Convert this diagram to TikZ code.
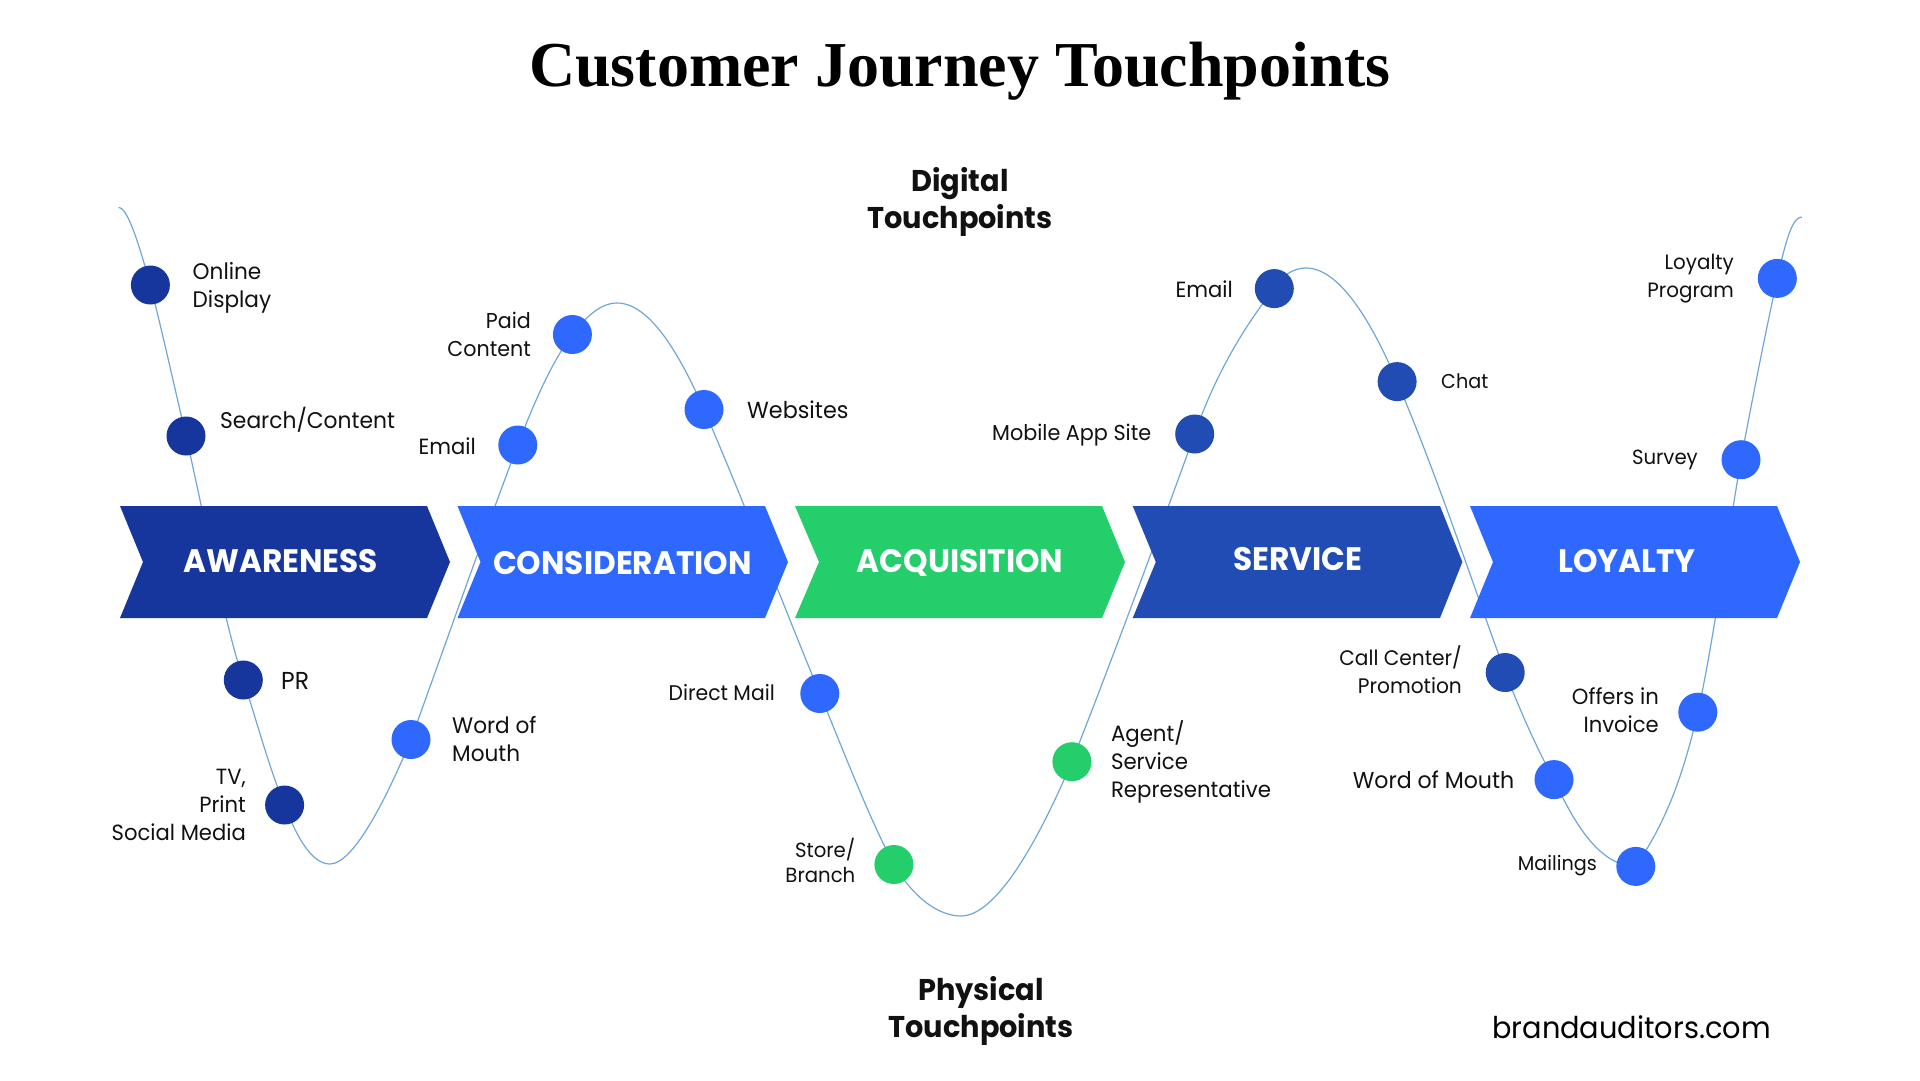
\documentclass[tikz,border=0pt]{standalone}
\usepackage{fontspec}
\setmainfont[FakeStretch=0.96]{Poppins}
\newfontfamily\titlefont{Liberation Serif}
\definecolor{cnavy}{HTML}{16369E}
\definecolor{cblue}{HTML}{2E68FF}
\definecolor{cgreen}{HTML}{23CE6B}
\definecolor{cmid}{HTML}{214CB4}
\definecolor{cline}{HTML}{6FA8D8}
\definecolor{cink}{HTML}{111111}
\tikzset{
  dot/.style={circle,minimum size=39pt,inner sep=0pt},
  lab/.style={font=\fontsize{#1}{28}\selectfont,text=cink,inner sep=0pt},
  labl/.style={lab=#1,anchor=west,align=left},
  labl/.default=22.5,
  labr/.style={lab=#1,anchor=east,align=right},
  labr/.default=22.5,
  phase/.style={font=\fontsize{32.5}{36}\selectfont\bfseries,text=white,inner sep=0pt},
  head/.style={font=\fontsize{30}{37}\selectfont\bfseries,text=cink,align=center,inner sep=0pt},
}
\begin{document}
\begin{tikzpicture}[x=1pt,y=-1pt]
\useasboundingbox (0,0) rectangle (1920,1080);
\fill[white] (0,0) rectangle (1920,1080);
% touchpoint positions
\coordinate (p1) at (150.4,285);
\coordinate (p2) at (186,436);
\coordinate (p3) at (243.3,680);
\coordinate (p4) at (284.6,805);
\coordinate (p5) at (411,739.5);
\coordinate (p6) at (517.8,445);
\coordinate (p7) at (572.4,334.5);
\coordinate (p8) at (704,409.5);
\coordinate (p9) at (819.8,693.5);
\coordinate (p10) at (893.9,864.5);
\coordinate (p11) at (1071.9,761.7);
\coordinate (p12) at (1194.7,434);
\coordinate (p13) at (1274.3,288.6);
\coordinate (p14) at (1397.1,381.6);
\coordinate (p15) at (1505.2,672.5);
\coordinate (p16) at (1554,779.6);
\coordinate (p17) at (1635.8,866.4);
\coordinate (p18) at (1697.8,712.2);
\coordinate (p19) at (1741,459.7);
\coordinate (p20) at (1777.3,278.4);
% curve
\draw[cline,line width=1.2pt] (118.5,207.5)
 .. controls (128,207.5) and (139,245) .. (p1)
 .. controls (163,335) and (174,385) .. (p2)
 .. controls (205,520) and (225,625) .. (p3)
 .. controls (255,715) and (268,765) .. (p4)
 .. controls (297,838) and (312,864) .. (330,864)
 .. controls (355,864) and (390,790) .. (p5)
 .. controls (447,640) and (480,545) .. (p6)
 .. controls (535,400) and (553,360) .. (p7)
 .. controls (585,318) and (600,303) .. (617,303)
 .. controls (650,303) and (680,355) .. (p8)
 .. controls (742,497) and (780,597) .. (p9)
 .. controls (843,750) and (870,820) .. (p10)
 .. controls (915,900) and (940,916) .. (961,916)
 .. controls (1000,916) and (1045,825) .. (p11)
 .. controls (1112,660) and (1160,530) .. (p12)
 .. controls (1215,375) and (1245,325) .. (p13)
 .. controls (1282,275) and (1294,268) .. (1306,268)
 .. controls (1342,268) and (1375,330) .. (p14)
 .. controls (1437,475) and (1473,585) .. (p15)
 .. controls (1520,710) and (1535,745) .. (p16)
 .. controls (1575,825) and (1600,866) .. (p17)
 .. controls (1660,830) and (1680,790) .. (p18)
 .. controls (1712,650) and (1727,540) .. (p19)
 .. controls (1755,385) and (1765,335) .. (p20)
 .. controls (1787,235) and (1793,217) .. (1802,217);
% chevrons
\fill[cnavy] (120,506)--(427,506)--(450,562)--(427,618)--(120,618)--(143,562)--cycle;
\fill[cblue] (457.5,506)--(765,506)--(788,562)--(765,618)--(457.5,618)--(480.5,562)--cycle;
\fill[cgreen] (795,506)--(1102,506)--(1125,562)--(1102,618)--(795,618)--(819,562)--cycle;
\fill[cmid] (1132.7,506)--(1440,506)--(1462.4,562)--(1440,618)--(1132.7,618)--(1155.8,562)--cycle;
\fill[cblue] (1470,506)--(1777,506)--(1800,562)--(1777,618)--(1470,618)--(1493,562)--cycle;
\node[phase] (awareness) at (280.6,561) {AWARENESS};
\node[phase] (consideration) at (622.5,563) {CONSIDERATION};
\node[phase] (acquisition) at (960,563) {ACQUISITION};
\node[phase] (service) at (1298,559) {SERVICE};
\node[phase] (loyalty) at (1627,561) {LOYALTY};
% dots
\foreach \n/\c in {1/cnavy,2/cnavy,3/cnavy,4/cnavy,5/cblue,6/cblue,7/cblue,8/cblue,9/cblue,10/cgreen,11/cgreen,12/cmid,13/cmid,14/cmid,15/cmid,16/cblue,17/cblue,18/cblue,19/cblue,20/cblue}
  \node[dot,fill=\c] (d\n) at (p\n) {};
% labels
\node[labl=22.5] (l1) at (192.5,287.5) {Online\\Display};
\node[labl=22.7] (l2) at (220,420) {Search/Content};
\node[labl=24.5] (l3) at (281,681) {PR};
\node[labr=22] (l4) at (246,805) {TV,\\Print\\Social Media};
\node[labl=22.5] (l5) at (452,738.5) {Word of\\Mouth};
\node[labr=22] (l6) at (476,446) {Email};
\node[labr=21.5] (l7) at (531,334) {Paid\\Content};
\node[labl=23.2] (l8) at (747,410) {Websites};
\node[labr=21.2] (l9) at (775,692.5) {Direct Mail};
\node[labr=20.5,font=\fontsize{20.5}{25}\selectfont] (l10) at (855.5,860) {Store/\\Branch};
\node[labl=22.2] (l11) at (1110.8,762) {Agent/\\Service\\Representative};
\node[labr=21.6] (l12) at (1151.4,435.5) {Mobile App Site};
\node[labr=22] (l13) at (1233,289) {Email};
\node[labl=20] (l14) at (1441,381) {Chat};
\node[labr=21] (l15) at (1462,669.5) {Call Center/\\Promotion};
\node[labr=23] (l16) at (1514.5,780) {Word of Mouth};
\node[labr=20] (l17) at (1597,866) {Mailings};
\node[labr=22] (l18) at (1659,710) {Offers in\\Invoice};
\node[labr=20.5] (l19) at (1698,460) {Survey};
\node[labr=20.7] (l20) at (1734,279) {Loyalty\\Program};
% headings
\node[font=\titlefont\fontsize{64}{70}\selectfont\bfseries,text=black,inner sep=0pt] (title) at (960,71) {Customer Journey Touchpoints};
\node[head] (digital) at (960,202) {Digital\\Touchpoints};
\node[head] (physical) at (981,1011) {Physical\\Touchpoints};
\node[font=\fontsize{30}{36}\selectfont,text=black,inner sep=0pt] (site) at (1631.5,1027) {brandauditors.com};
\end{tikzpicture}
\end{document}
